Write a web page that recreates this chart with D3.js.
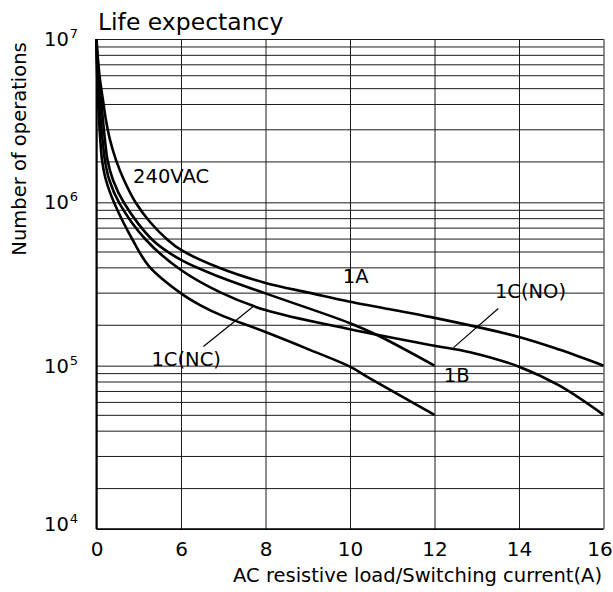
<!DOCTYPE html>
<html lang="en">
<head>
<meta charset="UTF-8">
<title>Life expectancy</title>
<style>
    body { margin: 0; background: #fff; }
    svg { display: block; font-family: "DejaVu Sans", sans-serif; }
    .grid line { stroke: #1a1a1a; stroke-width: 1; }
    .curve { fill: none; stroke: #000; stroke-width: 2.6px; }
    .leader { stroke: #000; stroke-width: 1.2px; }
    .lbl { font-size: 19.5px; fill: #000; }
</style>
</head>
<body>
<div id="chart"></div>
<script src="https://d3js.org/d3.v7.min.js"></script>
<script>
// x ticks (the 0-6 span is drawn compressed, same width as the other intervals)
const xTicks = [0, 6, 8, 10, 12, 14, 16];
const decades = [1e4, 1e5, 1e6, 1e7];
// horizontal grid lines inside each decade, as drawn on the original
const gridSteps = [1, 1.78, 2.8, 4, 5, 6, 7, 8, 9];

// curves: [current (A), operations]
const curve1A = [[0, 1e7], [0.11, 7.44e6], [0.25, 5.61e6], [0.46, 4.23e6], [0.67, 3.19e6], [0.96, 2.41e6],
    [1.38, 1.82e6], [1.95, 1.37e6], [2.8, 9.9e5], [3.8, 7.58e5], [5.06, 5.88e5], [6, 5.11e5],
    [6.92, 3.96e5], [8, 3.21e5], [9.05, 2.79e5], [10, 2.46e5], [11.89, 1.99e5], [14, 1.5e5],
    [14.97, 1.25e5], [16, 1e5]];
const curve1B = [[0, 1e7], [0.07, 7.44e6], [0.18, 5.61e6], [0.32, 4.23e6], [0.46, 3.19e6], [0.6, 2.41e6],
    [0.78, 1.82e6], [1.17, 1.37e6], [1.96, 9.9e5], [3.98, 5.88e5], [6, 4.44e5], [6.92, 3.49e5],
    [8, 2.77e5], [10, 1.82e5], [10.64, 1.54e5], [12, 1e5]];
const curve1CNO = [[0, 1e7], [0.04, 7.44e6], [0.11, 5.61e6], [0.2, 4.23e6], [0.3, 3.19e6], [0.43, 2.41e6],
    [0.59, 1.82e6], [0.91, 1.37e6], [1.62, 9.9e5], [3.52, 5.88e5], [6, 3.85e5], [6.92, 2.82e5],
    [8, 2.19e5], [10, 1.67e5], [11.89, 1.34e5], [12.84, 1.21e5], [14, 9.86e4], [14.97, 7.51e4], [16, 5e4]];
const curve1CNC = [[0, 1e7], [0.02, 7.44e6], [0.06, 5.61e6], [0.11, 4.23e6], [0.18, 3.19e6], [0.27, 2.41e6],
    [0.39, 1.82e6], [0.67, 1.37e6], [1.26, 9.9e5], [2.57, 5.88e5], [3.75, 4.04e5], [6, 2.77e5],
    [6.45, 2.35e5], [7, 2.01e5], [7.94, 1.63e5], [9.05, 1.25e5], [10, 9.86e4], [10.47, 8.37e4], [12, 5e4]];

// labels: text, x (A), y (operations) of the text baseline start
const labels = [
    { text: "240VAC", x: 2.6, y: 1.31e6 },
    { text: "1A", x: 9.83, y: 3.19e5 },
    { text: "1C(NO)", x: 13.43, y: 2.6e5 },
    { text: "1B", x: 12.22, y: 7.98e4 },
    { text: "1C(NC)", x: 3.9, y: 9.95e4 }
];
// leader lines: [from, to]
const leaders = [
    [[6.53, 1.31e5], [7.71, 2.3e5]],
    [[13.51, 2.24e5], [12.45, 1.29e5]]
];

const W = 613, H = 592;
const plotL = 96.5, plotR = 603.5, plotT = 39, plotB = 529;

const svg = d3.select("#chart").append("svg")
    .attr("width", W)
    .attr("height", H);

const x = d3.scaleLinear()
    .domain(xTicks)
    .range(xTicks.map((d, i) => plotL + i * (plotR - plotL) / (xTicks.length - 1)));

const y = d3.scaleLog()
    .domain([decades[0], decades[decades.length - 1]])
    .range([plotB, plotT]);

const gridValues = decades.slice(0, -1)
    .flatMap(d => gridSteps.map(s => s * d))
    .concat(decades[decades.length - 1]);

// horizontal grid
svg.append("g")
    .attr("class", "grid")
    .attr("transform", `translate(${plotL},0)`)
    .call(d3.axisLeft(y).tickValues(gridValues).tickSize(-(plotR - plotL)).tickFormat(""))
    .call(g => g.select(".domain").remove());

// vertical grid + x tick labels
const xAxis = svg.append("g")
    .attr("class", "grid")
    .attr("transform", `translate(0,${plotB})`)
    .call(d3.axisBottom(x).tickValues(xTicks).tickSize(-(plotB - plotT)))
    .call(g => g.select(".domain").remove());

xAxis.selectAll("text")
    .attr("y", 27)
    .attr("dy", 0)
    .attr("dx", d => d === 16 ? -4 : 0)
    .style("font-size", "20px")
    .style("font-family", "'DejaVu Sans', sans-serif")
    .attr("fill", "#000");

// frame: left and bottom axis lines
svg.append("line").attr("x1", plotL).attr("x2", plotL).attr("y1", plotT).attr("y2", plotB)
    .attr("stroke", "#000").attr("stroke-width", 2);
svg.append("line").attr("x1", plotL).attr("x2", plotR).attr("y1", plotB).attr("y2", plotB)
    .attr("stroke", "#000").attr("stroke-width", 1.6);

// y decade labels 10^n
const yl = svg.append("g").selectAll("text")
    .data(decades)
    .join("text")
    .attr("x", 44)
    .attr("y", d => y(d) + (d === decades[0] ? 1.5 : 7))
    .style("font-size", "19.5px");
yl.append("tspan").text("10");
yl.append("tspan")
    .attr("dy", -8)
    .attr("dx", 1)
    .style("font-size", "13px")
    .text(d => Math.round(Math.log10(d)));

// curves
const line = d3.line()
    .x(d => x(d[0]))
    .y(d => y(d[1]))
    .curve(d3.curveCatmullRom.alpha(0.5));

svg.selectAll(".curve")
    .data([curve1A, curve1B, curve1CNO, curve1CNC])
    .join("path")
    .attr("class", "curve")
    .attr("d", line);

// leaders
svg.selectAll(".leader")
    .data(leaders)
    .join("line")
    .attr("class", "leader")
    .attr("x1", d => x(d[0][0])).attr("y1", d => y(d[0][1]))
    .attr("x2", d => x(d[1][0])).attr("y2", d => y(d[1][1]));

// curve labels
svg.selectAll(".lbl")
    .data(labels)
    .join("text")
    .attr("class", "lbl")
    .attr("x", d => x(d.x))
    .attr("y", d => y(d.y))
    .text(d => d.text);

// titles
svg.append("text")
    .attr("x", 98)
    .attr("y", 30)
    .style("font-size", "23.5px")
    .text("Life expectancy");

svg.append("text")
    .attr("x", 602)
    .attr("y", 582)
    .attr("text-anchor", "end")
    .style("font-size", "19.5px")
    .text("AC resistive load/Switching current(A)");

svg.append("text")
    .attr("transform", "translate(26,149) rotate(-90)")
    .attr("text-anchor", "middle")
    .style("font-size", "19.5px")
    .text("Number of operations");
</script>
</body>
</html>
